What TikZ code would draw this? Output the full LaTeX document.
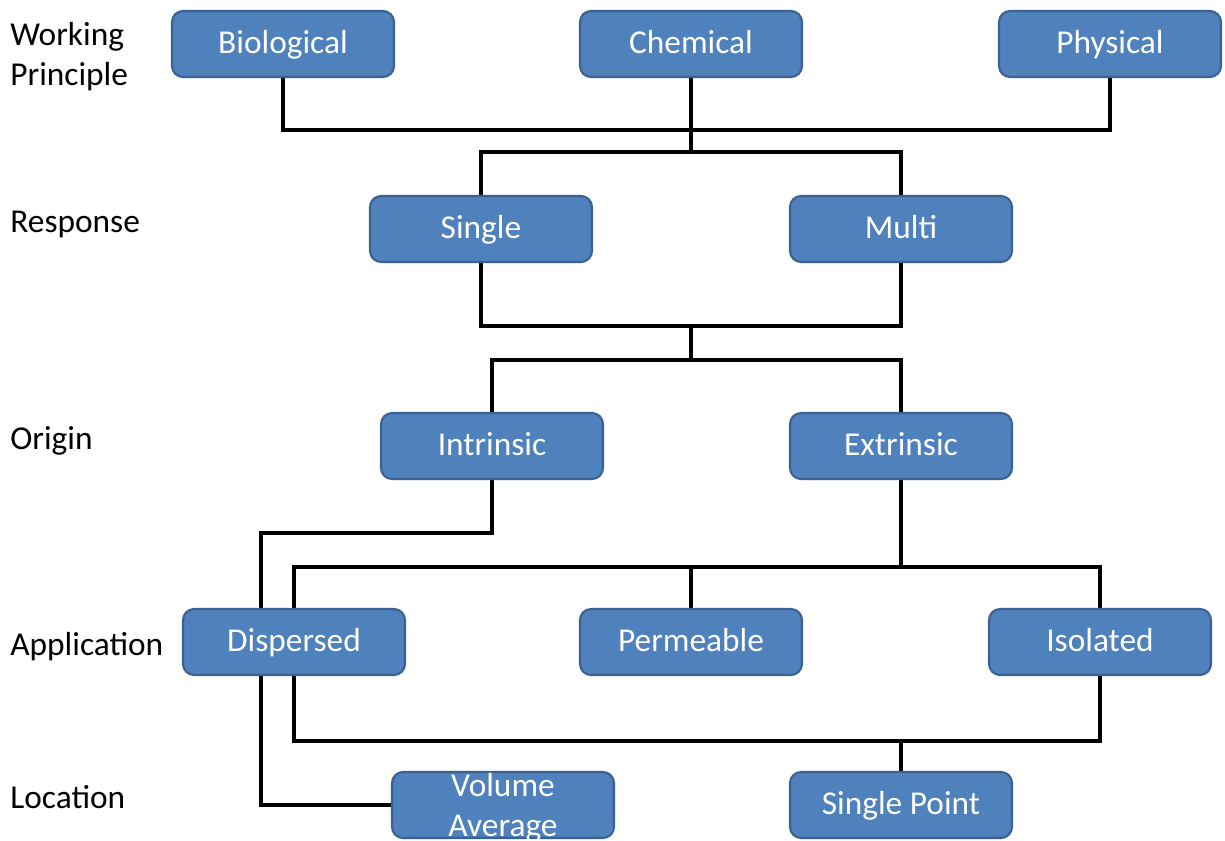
\documentclass[tikz,border=0pt]{standalone}
\usepackage{fontspec}
\setmainfont{Carlito}
\usepackage{xcolor}
\usepackage{tikz}
\usetikzlibrary{positioning,backgrounds}
\definecolor{boxfill}{HTML}{4F81BD}
\definecolor{boxline}{HTML}{3A6190}
\newcommand\cls{\fontsize{19}{22.7}\selectfont}

\begin{document}
\begin{tikzpicture}[x=0.02cm,y=-0.02cm,
                    box/.style={draw=boxline, line width=1.2pt, fill=boxfill,
                        rounded corners=0.22cm, minimum width=4.44cm, minimum height=1.32cm,
                        text=white, align=center, text height=12pt, text depth=1pt, font=\cls},
                    tag/.style={anchor=base west, align=left, inner sep=0pt, font=\cls},
                    link/.style={draw=black, line width=1.8pt}]
    \useasboundingbox (0,0) rectangle (1225,840);

    % row labels
    \node[tag] (lwp) at (10,85) {Working\\Principle};
    \node[tag] (lre) at (10,232) {Response};
    \node[tag] (lor) at (10,449) {Origin};
    \node[tag] (lap) at (10,655) {Application};
    \node[tag] (llo) at (10,808) {Location};

    % boxes
    \node[box] (bio) at (283,44) {Biological};
    \node[box] (chem) at (691,44) {Chemical};
    \node[box] (phys) at (1110,44) {Physical};
    \node[box] (single) at (481,229) {Single};
    \node[box] (multi) at (901,229) {Multi};
    \node[box] (intr) at (492,446) {Intrinsic};
    \node[box] (extr) at (901,446) {Extrinsic};
    \node[box] (disp) at (294,642) {Dispersed};
    \node[box] (perm) at (691,642) {Permeable};
    \node[box] (iso) at (1100,642) {Isolated};
    \node[box, text height=35.7pt, text depth=0pt, inner ysep=0pt] (vol) at (503,805) {Volume\\Average};
    \node[box] (point) at (901,805) {Single Point};

    % junctions
    \coordinate (j1) at (691,130);
    \coordinate (j2) at (691,152);
    \coordinate (j3) at (691,326);
    \coordinate (j4) at (691,360);
    \coordinate (j5) at (261,533);
    \coordinate (j6) at (901,567);
    \coordinate (j7) at (901,741);

    \begin{pgfonlayer}{background}
        \draw[link] (bio.south) |- (j1) -| (phys.south);
        \draw[link] (chem.south) -- (j2);
        \draw[link] (single.north) |- (j2) -| (multi.north);
        \draw[link] (single.south) |- (j3) -| (multi.south);
        \draw[link] (j3) -- (j4);
        \draw[link] (intr.north) |- (j4) -| (extr.north);
        \draw[link] (intr.south) |- (j5) |- (vol.west);
        \draw[link] (extr.south) -- (j6);
        \draw[link] (disp.north) |- (j6) -| (iso.north);
        \draw[link] (perm.north) -- (perm.north |- j6);
        \draw[link] (disp.south) |- (j7) -| (iso.south);
        \draw[link] (j7) -- (point.north);
    \end{pgfonlayer}
\end{tikzpicture}
\end{document}
